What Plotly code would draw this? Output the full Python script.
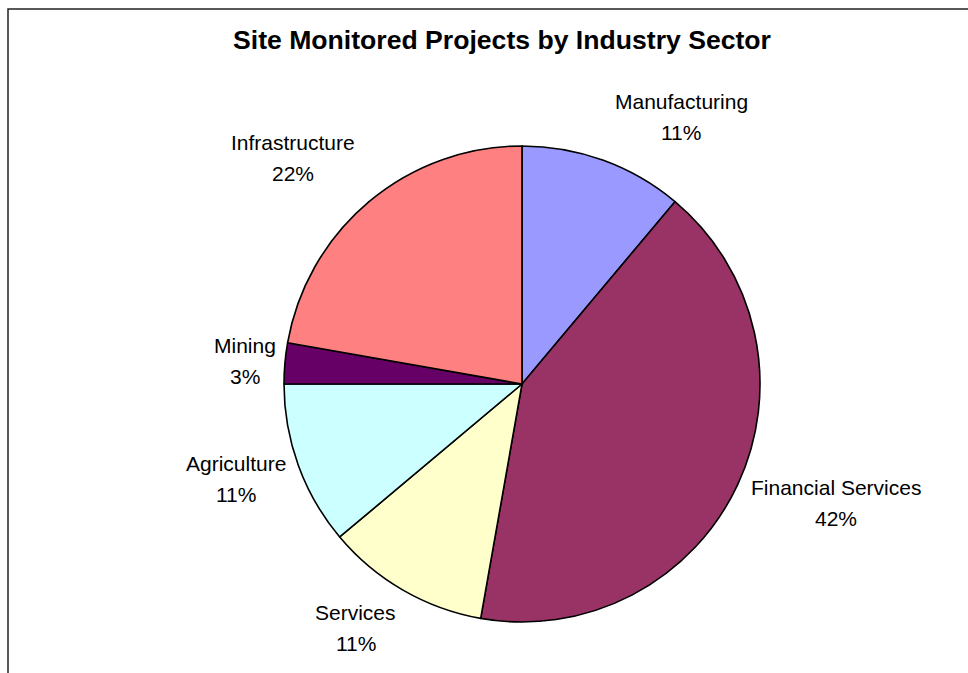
import math
import plotly.graph_objects as go

# Projects monitored on site, grouped by industry sector
sectors = ["Manufacturing", "Financial Services", "Services", "Agriculture", "Mining", "Infrastructure"]
projects = [4, 15, 4, 4, 1, 8]
colors = ["#9999FF", "#993366", "#FFFFCC", "#CCFFFF", "#660066", "#FF8080"]

W, H = 968, 673
CX, CY, R = 522, 384, 238          # pie centre and radius in pixels
LABEL_RADIUS = 1.28 * R            # base distance of the data labels
LINE_GAP = 31                      # distance between the two lines of a label
# small per-label adjustments (pixels) around the base label position
LABEL_NUDGE = {
    "Manufacturing": (55, 19),
    "Financial Services": (38, -10),
    "Services": (-14, -20),
    "Agriculture": (0, -9),
    "Mining": (26, 4),
    "Infrastructure": (-33, 7),
}
FONT = "Liberation Sans, Arial, sans-serif"


def px(x):
    return x / W


def py(y):
    return 1 - y / H


fig = go.Figure(
    go.Pie(
        labels=sectors,
        values=projects,
        marker=dict(colors=colors, line=dict(color="#000000", width=1.6)),
        sort=False,
        direction="clockwise",
        rotation=0,
        textinfo="none",
        hoverinfo="label+percent",
        showlegend=False,
        domain=dict(x=[px(CX - R), px(CX + R)], y=[py(CY + R), py(CY - R)]),
    )
)

# data labels: sector name and share, placed outside each slice's mid-angle
total = sum(projects)
annotations = []
cum = 0
for name, v in zip(sectors, projects):
    mid = (cum + v / 2) / total * 2 * math.pi
    cum += v
    ux, uy = math.sin(mid), -math.cos(mid)
    dx, dy = LABEL_NUDGE[name]
    lx = CX + LABEL_RADIUS * ux + dx
    ly = CY + LABEL_RADIUS * uy + dy
    pct = f"{round(100 * v / total)}%"
    for text, yy in ((name, ly - LINE_GAP / 2), (pct, ly + LINE_GAP / 2)):
        annotations.append(
            dict(
                x=px(lx), y=py(yy), xref="paper", yref="paper",
                text=text, showarrow=False, xanchor="center", yanchor="middle",
                font=dict(family=FONT, size=21, color="#000000"),
            )
        )

fig.update_layout(
    width=W,
    height=H,
    margin=dict(l=0, r=0, t=0, b=0),
    paper_bgcolor="#FFFFFF",
    plot_bgcolor="#FFFFFF",
    title=dict(
        text="<b>Site Monitored Projects by Industry Sector</b>",
        x=px(502), y=py(40), xanchor="center", yanchor="middle",
        font=dict(family=FONT, size=26.6, color="#000000"),
    ),
    annotations=annotations,
    shapes=[
        dict(
            type="rect", xref="paper", yref="paper",
            x0=px(8), x1=1.05, y0=-0.05, y1=py(9),
            line=dict(color="#222222", width=1.5), fillcolor="rgba(0,0,0,0)",
        )
    ],
)

fig.write_html("out.html")
